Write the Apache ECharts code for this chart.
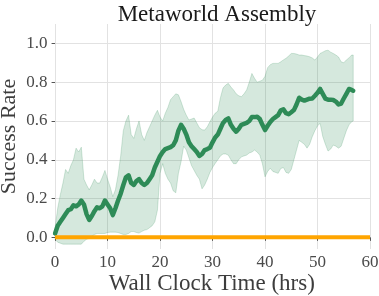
<!DOCTYPE html>
<html>
<head>
<meta charset="utf-8">
<script src="https://cdn.jsdelivr.net/npm/echarts@6/dist/echarts.min.js"></script>
<style>
html,body{margin:0;padding:0;background:#fff;}
#chart{width:379px;height:296px;}
</style>
</head>
<body>
<div id="chart"></div>
<script>
const hours = [0,0.5,1,1.5,2,2.5,3,3.5,4,4.5,5,5.5,6,6.5,7,7.5,8,8.5,9,9.5,10,10.5,11,11.5,12,12.5,13,13.5,14,14.5,15,15.5,16,16.5,17,17.5,18,18.5,19,19.5,20,20.5,21,21.5,22,22.5,23,23.5,24,24.5,25,25.5,26,26.5,27,27.5,28,28.5,29,29.5,30,30.5,31,31.5,32,32.5,33,33.5,34,34.5,35,35.5,36,36.5,37,37.5,38,38.5,39,39.5,40,40.5,41,41.5,42,42.5,43,43.5,44,44.5,45,45.5,46,46.5,47,47.5,48,48.5,49,49.5,50,50.5,51,51.5,52,52.5,53,53.5,54,54.5,55,55.5,56,56.5,56.8];
const meanSuccess = [0.02,0.06,0.08,0.10,0.12,0.14,0.145,0.165,0.16,0.17,0.19,0.17,0.12,0.09,0.11,0.135,0.155,0.15,0.16,0.19,0.17,0.15,0.115,0.15,0.19,0.225,0.27,0.31,0.32,0.28,0.27,0.29,0.30,0.28,0.27,0.28,0.30,0.32,0.36,0.39,0.42,0.44,0.455,0.46,0.465,0.475,0.50,0.55,0.58,0.56,0.53,0.49,0.47,0.455,0.44,0.42,0.43,0.45,0.455,0.462,0.49,0.515,0.53,0.56,0.59,0.605,0.613,0.58,0.56,0.545,0.56,0.58,0.585,0.59,0.60,0.62,0.62,0.622,0.61,0.58,0.553,0.575,0.595,0.61,0.62,0.63,0.655,0.66,0.64,0.635,0.645,0.656,0.685,0.72,0.71,0.705,0.71,0.715,0.716,0.73,0.745,0.765,0.74,0.715,0.71,0.71,0.708,0.70,0.685,0.69,0.716,0.74,0.765,0.76,0.756];
const upperBand = [0.05,0.15,0.22,0.28,0.35,0.33,0.37,0.40,0.46,0.44,0.465,0.30,0.27,0.245,0.27,0.30,0.28,0.28,0.31,0.345,0.30,0.26,0.21,0.245,0.32,0.42,0.55,0.60,0.63,0.53,0.51,0.56,0.60,0.53,0.50,0.54,0.57,0.60,0.63,0.655,0.62,0.60,0.64,0.67,0.71,0.725,0.74,0.735,0.70,0.66,0.63,0.605,0.61,0.615,0.59,0.565,0.555,0.553,0.57,0.596,0.62,0.64,0.65,0.72,0.77,0.785,0.794,0.775,0.76,0.74,0.73,0.725,0.74,0.76,0.80,0.845,0.82,0.80,0.805,0.81,0.83,0.875,0.89,0.897,0.897,0.897,0.905,0.915,0.923,0.935,0.948,0.948,0.945,0.94,0.94,0.937,0.935,0.931,0.925,0.914,0.93,0.948,0.955,0.962,0.965,0.955,0.948,0.94,0.93,0.905,0.90,0.915,0.925,0.94,0.94];
const lowerBand = [-0.01,-0.025,-0.03,-0.035,-0.035,-0.035,-0.035,-0.035,-0.035,-0.035,-0.035,-0.02,-0.01,-0.005,0.005,0.015,0.02,0.02,0.02,0.02,0.025,0.027,0.027,0.027,0.025,0.02,0.015,0.015,0.02,0.03,0.03,0.025,0.022,0.03,0.037,0.04,0.05,0.06,0.08,0.14,0.33,0.38,0.33,0.30,0.28,0.24,0.23,0.33,0.39,0.47,0.45,0.41,0.37,0.345,0.32,0.30,0.25,0.27,0.30,0.335,0.36,0.381,0.40,0.42,0.43,0.43,0.424,0.40,0.38,0.38,0.40,0.415,0.42,0.424,0.435,0.44,0.45,0.44,0.424,0.38,0.312,0.34,0.356,0.34,0.335,0.33,0.355,0.36,0.335,0.33,0.35,0.40,0.45,0.50,0.49,0.48,0.46,0.48,0.519,0.55,0.575,0.588,0.52,0.48,0.445,0.455,0.476,0.47,0.46,0.47,0.51,0.55,0.58,0.596,0.60];
const baselineHours = [0, 60];
const baselineSuccess = [0, 0];
const xTicks = [0, 10, 20, 30, 40, 50, 60];
const yTicks = [0.0, 0.2, 0.4, 0.6, 0.8, 1.0];
const titleText = 'Metaworld Assembly';
const xName = 'Wall Clock Time (hrs)';
const yName = 'Success Rate';

const serif = "'Liberation Serif', 'Times New Roman', serif";
const chart = echarts.init(document.getElementById('chart'), null, {renderer: 'canvas'});
const pairs = (xs, ys) => xs.map((x, i) => [x, ys[i]]);
const bandData = hours.map((h, i) => [h, lowerBand[i], upperBand[i]]);

chart.setOption({
  animation: false,
  backgroundColor: '#ffffff',
  title: {
    text: titleText,
    left: 212,
    top: -2,
    textAlign: 'center',
    textStyle: {fontFamily: serif, fontSize: 23, fontWeight: 'normal', color: '#1a1a1a'}
  },
  grid: {left: 53.5, right: 9, top: 24, bottom: 47, containLabel: false, outerBoundsMode: 'none'},
  xAxis: {
    type: 'value',
    min: -0.3,
    max: 60,
    name: xName,
    nameLocation: 'middle',
    nameGap: 23.5,
    nameMoveOverlap: false,
    nameTextStyle: {fontFamily: serif, fontSize: 23, color: '#3d3d3d'},
    axisLine: {show: false},
    axisTick: {show: true, customValues: xTicks, length: 3.5, lineStyle: {color: '#555', width: 1}},
    axisLabel: {customValues: xTicks, fontFamily: serif, fontSize: 17, color: '#4a4a4a', margin: 5},
    splitLine: {show: true, lineStyle: {color: '#e2e2e2', width: 1}}
  },
  yAxis: {
    type: 'value',
    min: -0.06,
    max: 1.1,
    name: yName,
    nameLocation: 'middle',
    nameRotate: 90,
    nameGap: 33,
    nameMoveOverlap: false,
    nameTextStyle: {fontFamily: serif, fontSize: 22, color: '#3d3d3d'},
    axisLine: {show: false},
    axisTick: {show: true, customValues: yTicks, length: 3.5, lineStyle: {color: '#555', width: 1}},
    axisLabel: {customValues: yTicks, formatter: v => v.toFixed(1), fontFamily: serif, fontSize: 17, color: '#4a4a4a', margin: 6},
    splitLine: {show: true, lineStyle: {color: '#e2e2e2', width: 1}}
  },
  series: [
    {
      name: 'band', type: 'custom', silent: true, z: 2,
      data: bandData,
      encode: {x: 0, y: [1, 2]},
      renderItem: function (params, api) {
        if (params.dataIndex !== 0) return null;
        const top = bandData.map(d => api.coord([d[0], d[2]]));
        const bottom = bandData.map(d => api.coord([d[0], d[1]])).reverse();
        return {
          type: 'group',
          children: [
            {type: 'polygon', shape: {points: top.concat(bottom)},
             style: {fill: 'rgba(46,139,87,0.2)', stroke: 'rgba(46,139,87,0.3)', lineWidth: 0.7}}
          ]
        };
      }
    },
    {
      name: 'mean', type: 'line', data: pairs(hours, meanSuccess), symbol: 'none', silent: true,
      lineStyle: {width: 4.5, color: '#2e8b57', join: 'round', cap: 'round'}, z: 3
    },
    {
      name: 'baseline', type: 'line', data: pairs(baselineHours, baselineSuccess), symbol: 'none', silent: true,
      lineStyle: {width: 4, color: '#ffa500'}, z: 4
    }
  ]
});
</script>
</body>
</html>
